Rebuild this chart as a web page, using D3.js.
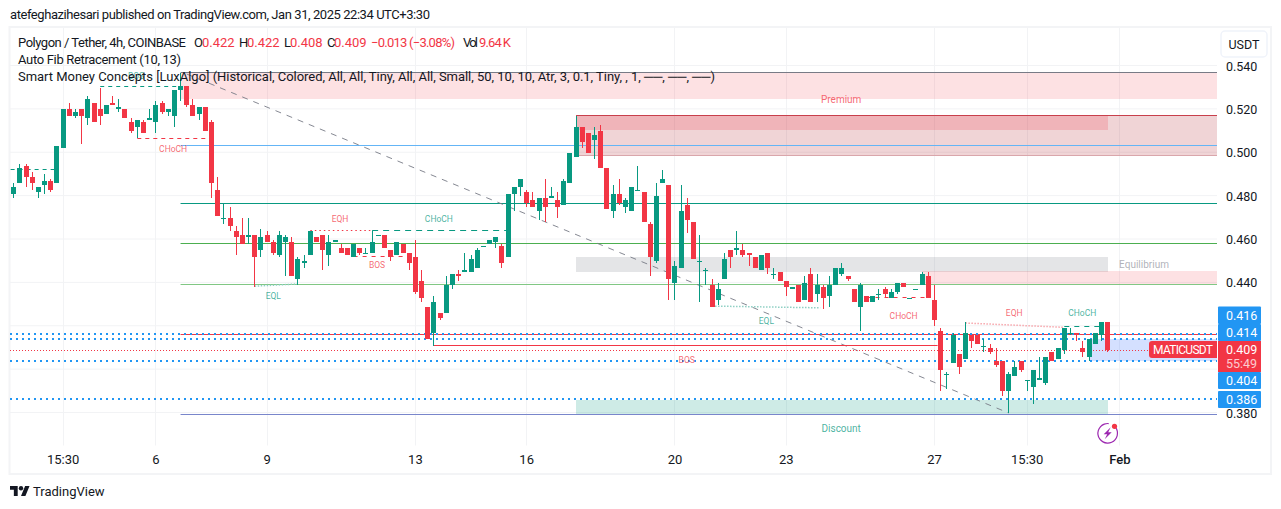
<!DOCTYPE html>
<html>
<head>
<meta charset="utf-8">
<script src="https://cdn.jsdelivr.net/npm/d3@7"></script>
<style>
html, body { margin: 0; padding: 0; background: #fff; overflow: hidden; }
text { font-family: Roboto, sans-serif; }
</style>
</head>
<body>
<svg id="chart" width="1281" height="509"></svg>
<script>
// candles, 4h
const opens = [.481,.486,.494,.489,.482,.485,.487,.486,.502,.520,.517,.520,.516,.523,.520,.518,.523,.520,.520,.514,.512,.514,.515,.514,.523,.519,.517,.529,.531,.522,.518,.521,.514,.483,.470,.470,.464,.462,.461,.462,.455,.462,.459,.453,.459,.459,.442,.449,.453,.461,.462,.453,.459,.456,.456,.452,.456,.454,.454,.462,.462,.455,.453,.458,.454,.452,.441,.429,.417,.426,.426,.439,.444,.445,.445,.447,.457,.458,.459,.457,.452,.481,.484,.482,.478,.473,.479,.479,.478,.476,.486,.498,.512,.509,.506,.510,.493,.473,.481,.475,.473,.483,.482,.467,.450,.486,.485,.440,.447,.476,.468,.450,.446,.439,.432,.442,.455,.455,.455,.454,.452,.446,.454,.444,.445,.441,.437,.439,.432,.444,.435,.438,.434,.439,.444,.443,.437,.429,.434,.431,.435,.437,.433,.436,.440,.433,.437,.439,.443,.432,.418,.398,.403,.407,.405,.416,.416,.411,.410,.404,.404,.390,.397,.404,.395,.392,.395,.394,.408,.405,.409,.417,.417,.410,.406,.412,.416,.422]
const highs = [.486,.495,.495,.491,.484,.490,.488,.503,.520,.523,.520,.520,.526,.523,.530,.522,.526,.525,.520,.516,.515,.515,.520,.524,.524,.520,.529,.537,.531,.525,.521,.521,.515,.489,.477,.475,.466,.470,.470,.462,.465,.464,.460,.464,.462,.461,.452,.453,.464,.461,.462,.462,.460,.458,.456,.458,.456,.456,.464,.462,.462,.455,.459,.458,.454,.460,.446,.429,.434,.426,.443,.444,.446,.454,.453,.456,.457,.460,.461,.458,.481,.484,.488,.483,.482,.479,.488,.484,.482,.488,.500,.517,.512,.509,.512,.513,.493,.485,.488,.479,.484,.494,.482,.468,.486,.492,.485,.450,.485,.479,.468,.462,.447,.442,.440,.454,.455,.464,.458,.454,.452,.453,.454,.447,.445,.441,.438,.439,.443,.447,.444,.439,.443,.447,.449,.443,.437,.440,.434,.434,.437,.438,.437,.440,.440,.433,.437,.445,.445,.439,.419,.399,.417,.407,.422,.416,.416,.414,.412,.410,.404,.399,.404,.404,.395,.400,.406,.406,.408,.410,.419,.419,.417,.413,.414,.417,.422,.422]
const lows = [.479,.486,.484,.483,.479,.481,.482,.486,.502,.517,.516,.504,.513,.514,.513,.518,.522,.519,.516,.509,.507,.509,.515,.509,.518,.517,.512,.524,.521,.517,.515,.510,.479,.471,.467,.464,.453,.458,.458,.438,.452,.459,.453,.452,.443,.443,.439,.447,.453,.459,.446,.448,.459,.454,.453,.452,.453,.454,.454,.462,.456,.450,.453,.454,.446,.435,.431,.414,.411,.423,.426,.437,.441,.445,.445,.447,.457,.458,.456,.447,.452,.473,.480,.475,.475,.469,.468,.479,.470,.476,.486,.498,.502,.500,.497,.493,.474,.470,.476,.472,.473,.483,.468,.443,.449,.486,.432,.432,.447,.463,.451,.431,.439,.429,.430,.442,.447,.453,.452,.448,.447,.446,.444,.442,.441,.434,.437,.431,.432,.431,.431,.428,.429,.439,.443,.441,.431,.418,.431,.431,.432,.433,.433,.435,.438,.433,.437,.439,.433,.420,.390,.391,.403,.398,.405,.410,.412,.408,.407,.401,.388,.380,.397,.399,.390,.384,.395,.393,.404,.405,.407,.416,.413,.406,.404,.412,.413,.408]
const closes = [.484,.493,.489,.486,.484,.487,.483,.503,.520,.517,.519,.517,.525,.514,.517,.522,.522,.521,.516,.510,.515,.509,.516,.522,.519,.520,.529,.531,.522,.517,.521,.510,.486,.471,.470,.466,.461,.458,.462,.452,.461,.459,.454,.462,.461,.443,.451,.450,.464,.459,.455,.459,.460,.454,.453,.458,.454,.454,.459,.462,.456,.452,.459,.454,.449,.436,.433,.414,.431,.424,.439,.444,.443,.446,.451,.455,.457,.460,.461,.449,.481,.484,.488,.477,.475,.479,.475,.480,.475,.487,.500,.512,.505,.500,.508,.493,.474,.481,.477,.478,.484,.483,.468,.452,.480,.488,.442,.448,.473,.469,.451,.450,.446,.429,.437,.451,.452,.456,.453,.453,.447,.453,.447,.444,.441,.438,.438,.431,.440,.431,.439,.433,.439,.447,.447,.442,.431,.439,.431,.434,.435,.435,.436,.440,.438,.433,.437,.444,.433,.423,.400,.398,.416,.401,.417,.413,.412,.411,.408,.402,.390,.398,.401,.400,.395,.400,.396,.406,.404,.410,.419,.417,.416,.408,.414,.417,.422,.409]

const priceTicks = [.54,.52,.50,.48,.46,.44,.38]
const gridPrices = [.54,.52,.50,.48,.46,.44,.42,.40,.38]
const timeTickIdx = [8,23,41,65,83,107,125,149,164,179]
const timeTickLabels = ['15:30','6','9','13','16','20','23','27','15:30','Feb']

const fibPrices = [.5371,.5035,.4767,.4583,.4394,.4163,.3793]
const fibColors = ['#787b86','#64b5f6','#089981','#4caf50','#81c784','#f23645','#7986cb']
const alertPrices = [.4165,.4142,.4040,.3866]
const alertLabels = ['0.416','0.414','0.404','0.386']
const lastPrice = .409

const svg = d3.select('#chart')
const plotLeft = 10, plotRight = 1217
const font = 'Roboto, sans-serif'

const x = d3.scaleLinear().domain([0, 177]).range([13.7, 13.7 + 6.18 * 177])
const y = d3.scaleLinear().domain([.38, .54]).range([413, 66])
const px = i => Math.floor(x(i)) + .5
const snap = v => Math.floor(y(v)) + .5

// frame
svg.append('rect').attr('x', 9.5).attr('y', 27).attr('width', 1261.5).attr('height', 447)
    .attr('fill', 'none').attr('stroke', '#f3f4f6').attr('stroke-width', 2)

// title
svg.append('text').attr('x', 10).attr('y', 19).attr('font-size', 13).attr('fill', '#131722')
    .attr('textLength', 420)
    .text('atefeghazihesari published on TradingView.com, Jan 31, 2025 22:34 UTC+3:30')

// grid
svg.selectAll('.hgrid').data(gridPrices).join('line').attr('class', 'hgrid')
    .attr('x1', plotLeft).attr('x2', plotRight)
    .attr('y1', d => y(d) - .5).attr('y2', d => y(d) - .5)
    .attr('stroke', '#f2f3f5')
svg.selectAll('.vgrid').data(timeTickIdx).join('line').attr('class', 'vgrid')
    .attr('x1', px).attr('x2', px).attr('y1', 28).attr('y2', 445.5)
    .attr('stroke', '#f2f3f5')

// zones: [left index, right index or null for axis edge, top price, bottom price, fill]
const zones = [
    [27.1, null, .5371, .5246, 'rgba(242,54,69,.15)'],
    [91, null, .5173, .4987, 'rgba(178,40,51,.2)'],
    [91, 177.1, .5173, .5105, 'rgba(242,54,69,.2)'],
    [91, 177.1, .4519, .4450, 'rgba(120,123,134,.2)'],
    [147, null, .4455, .4395, 'rgba(242,54,69,.15)'],
    [174, null, .4143, .4040, 'rgba(41,98,255,.2)'],
    [91, 177.1, .3860, .3796, 'rgba(8,153,129,.2)']
]
svg.selectAll('.zone').data(zones).join('rect').attr('class', 'zone')
    .attr('x', d => Math.round(x(d[0])))
    .attr('width', d => (d[1] === null ? plotRight : Math.round(x(d[1]))) - Math.round(x(d[0])))
    .attr('y', d => Math.round(y(d[2]))).attr('height', d => Math.round(y(d[3])) - Math.round(y(d[2])))
    .attr('fill', d => d[4])
// edges of the big supply zone
svg.append('line').attr('x1', x(91)).attr('x2', plotRight)
    .attr('y1', snap(.5173)).attr('y2', snap(.5173)).attr('stroke', '#c8404c')
svg.append('line').attr('x1', x(91)).attr('x2', plotRight)
    .attr('y1', snap(.4987)).attr('y2', snap(.4987)).attr('stroke', '#d9a6ab')

// fib lines
svg.selectAll('.fib').data(fibPrices).join('line').attr('class', 'fib')
    .attr('x1', x(27)).attr('x2', plotRight)
    .attr('y1', snap).attr('y2', snap)
    .attr('stroke', (d, i) => fibColors[i])

// trend
const trendLine = d3.line().x(d => x(d[0])).y(d => y(d[1]))
svg.append('path').attr('d', trendLine([[28, .5363], [161, .3800]]))
    .attr('fill', 'none').attr('stroke', '#787b86').attr('stroke-opacity', .9)
    .attr('stroke-dasharray', '6 6')

// price line and alert levels
svg.append('line').attr('x1', plotLeft).attr('x2', plotRight)
    .attr('y1', snap(lastPrice)).attr('y2', snap(lastPrice))
    .attr('stroke', '#f23645').attr('stroke-dasharray', '1 2')
svg.selectAll('.alert').data(alertPrices).join('line').attr('class', 'alert')
    .attr('x1', plotLeft).attr('x2', plotRight)
    .attr('y1', d => Math.round(y(d))).attr('y2', d => Math.round(y(d)))
    .attr('stroke', '#2196f3').attr('stroke-width', 2).attr('stroke-dasharray', '2 4')

// structure segments: [from index, to index, from price, to price, colour, dash]
const structure = [
    [-.5, 7, .4925, .4925, '#089981', '4 4'],
    [14, 27, .5305, .5305, '#089981', '4 4'],
    [20, 31.5, .5068, .5068, '#f23645', '4 4'],
    [39, 46, .4385, .4395, '#8fd0c4', '1.5 1.5'],
    [48, 58, .4642, .4642, '#f23645', '1.5 3'],
    [58, 80, .4642, .4642, '#089981', '6 5'],
    [55, 63, .4523, .4523, '#f23645', '4 5'],
    [68, 149.5, .4113, .4113, '#f23645', null],
    [113, 130.5, .4293, .4285, '#8fd0c4', '1.5 1.5'],
    [138, 148, .4333, .4333, '#f23645', '4 5'],
    [154, 170, .4215, .4195, '#f7a6ac', '1.5 1.5'],
    [170, 176, .4197, .4197, '#089981', '5 5']
]
svg.selectAll('.struct').data(structure).join('path').attr('class', 'struct')
    .attr('d', d => d3.line()([[x(d[0]), d[2] === d[3] ? snap(d[2]) : y(d[2])], [x(d[1]), d[2] === d[3] ? snap(d[3]) : y(d[3])]]))
    .attr('fill', 'none').attr('stroke', d => d[4])
    .attr('stroke-width', d => d[2] === d[3] ? 1 : 1.5)
    .attr('stroke-dasharray', d => d[5])

// candles
const idx = d3.range(opens.length)
const candleColor = i => closes[i] >= opens[i] ? '#089981' : '#f23645'
svg.selectAll('.wick').data(idx).join('rect').attr('class', 'wick')
    .attr('x', i => px(i) - .5).attr('width', 1)
    .attr('y', i => Math.round(y(highs[i])))
    .attr('height', i => Math.max(1, Math.round(y(lows[i])) - Math.round(y(highs[i]))))
    .attr('fill', candleColor)
const bodyTop = i => Math.round(y(Math.max(opens[i], closes[i])))
const bodyBot = i => Math.round(y(Math.min(opens[i], closes[i])))
svg.selectAll('.body').data(idx).join('rect').attr('class', 'body')
    .attr('x', i => px(i) - 2.5).attr('width', 5)
    .attr('y', bodyTop)
    .attr('height', i => Math.max(1, bodyBot(i) - bodyTop(i)))
    .attr('fill', candleColor)

// smc labels: [text, index, price, colour]
const smcLabels = [
    ['BOS', 19.8, .5354, '#089981'],
    ['CHoCH', 25.8, .5017, '#f23645'],
    ['EQL', 42, .4338, '#089981'],
    ['EQH', 52.8, .4695, '#f23645'],
    ['CHoCH', 68.8, .4695, '#089981'],
    ['BOS', 58.8, .4483, '#f23645'],
    ['EQL', 121.8, .4226, '#089981'],
    ['CHoCH', 144, .4245, '#f23645'],
    ['BOS', 108.9, .4043, '#f23645'],
    ['EQH', 161.9, .4259, '#f23645'],
    ['CHoCH', 172.9, .4259, '#089981'],
    ['Premium', 133.9, .5244, '#f23645'],
    ['Equilibrium', 182.9, .4483, '#9598a1'],
    ['Discount', 133.9, .3727, '#089981']
]
svg.selectAll('.smc').data(smcLabels).join('text').attr('class', 'smc')
    .attr('x', d => x(d[1])).attr('y', d => y(d[2]))
    .attr('dy', '.35em').attr('text-anchor', 'middle').attr('font-size', d => d[0].length > 5 ? 10 : 8.5)
    .attr('fill', d => d[3]).attr('fill-opacity', .75)
    .text(d => d[0])

// legend
const legend = svg.append('g').attr('font-size', 13).attr('fill', '#131722')
const red = '#f23645'
// [text, colour, x, fitted width or null]
const parts = [
    ['Polygon / Tether, 4h, COINBASE', null, 18, 168],
    ['O', null, 194, null], ['0.422', red, 202, null],
    ['H', null, 239, null], ['0.422', red, 247, null],
    ['L', null, 284, null], ['0.408', red, 290, null],
    ['C', null, 327, null], ['0.409', red, 334, null],
    ['\u22120.013 (\u22123.08%)', red, 371, 84],
    ['Vol', null, 463, 15], ['9.64\u2009K', red, 479, 32]
]
parts.forEach(p => {
    const t = legend.append('text').attr('x', p[2]).attr('y', 47).attr('fill', p[1]).text(p[0])
    if (p[3]) t.attr('textLength', p[3])
})
legend.append('text').attr('x', 18).attr('y', 64).attr('textLength', 163).text('Auto Fib Retracement (10, 13)')
legend.append('text').attr('x', 18).attr('y', 81).attr('textLength', 697)
    .text('Smart Money Concepts [LuxAlgo] (Historical, Colored, All, All, Tiny, All, All, Small, 50, 10, 10, Atr, 3, 0.1, Tiny, , 1, \u2500\u2500, \u2500\u2500, \u2500\u2500)')

// currency button
svg.append('rect').attr('x', 1221).attr('y', 31).attr('width', 46).attr('height', 26).attr('rx', 4)
    .attr('fill', '#fff').attr('stroke', '#f0f3fa').attr('stroke-width', 1.5)
svg.append('text').attr('x', 1244).attr('y', 49).attr('text-anchor', 'middle')
    .attr('font-size', 12.5).attr('fill', '#131722').text('USDT')

// axes
const yAxis = d3.axisRight(y).tickValues(priceTicks).tickSize(0).tickPadding(0).tickFormat(d3.format('.3f'))
const gy = svg.append('g').attr('transform', 'translate(1226,0)').call(yAxis)
gy.select('.domain').remove()
gy.selectAll('text').attr('font-size', 12.5).attr('fill', '#131722').attr('font-family', font)

const xAxis = d3.axisBottom(x).tickValues(timeTickIdx).tickSize(0).tickPadding(0)
    .tickFormat((d, i) => timeTickLabels[i])
const gx = svg.append('g').attr('transform', 'translate(-.5,455)').call(xAxis)
gx.select('.domain').remove()
gx.selectAll('text').attr('font-size', 13).attr('fill', '#131722').attr('font-family', font)
    .attr('font-weight', (d, i) => timeTickLabels[i] === 'Feb' ? 500 : 400)

// price tags
const tagTops = [306.5, 324, 372, 391]
const tagBottoms = [324, 341, 389, 408]
svg.selectAll('.tag').data(alertPrices).join('rect').attr('class', 'tag')
    .attr('x', 1218).attr('width', 43)
    .attr('y', (d, i) => tagTops[i]).attr('height', (d, i) => tagBottoms[i] - tagTops[i])
    .attr('rx', 1).attr('fill', '#2196f3')
svg.selectAll('.tagtext').data(alertLabels).join('text').attr('class', 'tagtext')
    .attr('x', 1226).attr('y', (d, i) => (tagTops[i] + tagBottoms[i]) / 2 + 4.5)
    .attr('font-size', 12.5).attr('fill', '#fff').text(d => d)

svg.append('path').attr('d', 'M1152,341H1217V358H1152a3,3 0 0 1 -3,-3V344a3,3 0 0 1 3,-3Z').attr('fill', red)
svg.append('text').attr('x', 1153).attr('y', 354).attr('textLength', 60)
    .attr('font-size', 12).attr('fill', '#fff').text('MATICUSDT')
svg.append('rect').attr('x', 1218).attr('y', 341).attr('width', 43).attr('height', 31).attr('fill', red)
svg.append('text').attr('x', 1226).attr('y', 354).attr('font-size', 12.5).attr('fill', '#fff').text('0.409')
svg.append('text').attr('x', 1226).attr('y', 368).attr('font-size', 12.5).attr('fill', '#fff').attr('fill-opacity', .75).text('55:49')

// flash icon
const flash = svg.append('g').attr('transform', 'translate(1107.7,433.3)')
flash.append('path').attr('d', d3.arc()({ innerRadius: 9.2, outerRadius: 10.4, startAngle: .9, endAngle: 2 * Math.PI + .1 }))
    .attr('fill', '#9c27b0')
flash.append('path').attr('d', 'M3,-6L-4,1H-.5L-3,6L4,-1H.5Z').attr('fill', '#9c27b0')
flash.append('circle').attr('cx', 6.8).attr('cy', -7).attr('r', 2.6).attr('fill', red)

// logo
const logo = svg.append('g').attr('transform', 'translate(10,483.8) scale(.55)').attr('fill', '#131722')
logo.append('path').attr('d', 'M14 22H7V11H0V4h14v18zM28 22h-8l7.5-18h8L28 22z')
logo.append('circle').attr('cx', 20).attr('cy', 8).attr('r', 4)
svg.append('text').attr('x', 33).attr('y', 496).attr('font-size', 13).attr('fill', '#131722').text('TradingView')
</script>
</body>
</html>
